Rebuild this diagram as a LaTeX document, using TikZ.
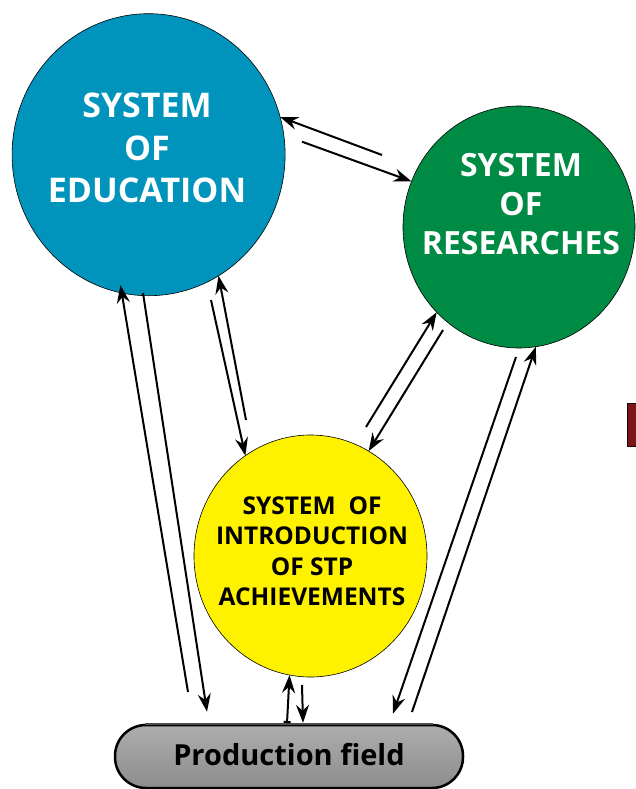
\documentclass[tikz,border=0pt]{standalone}
\usepackage{fontspec}
\setmainfont{Open Sans}
\usetikzlibrary{arrows.meta,shapes.geometric}
\definecolor{eduBlue}{RGB}{0,148,188}
\definecolor{resGreen}{RGB}{0,139,69}
\definecolor{introYellow}{RGB}{255,242,0}
\definecolor{markRed}{RGB}{125,22,26}
\tikzset{
	sphere/.style={ellipse, draw=black, line width=0.6pt, inner sep=0pt, outer sep=0pt},
	flowtip/.tip={Stealth[length=18pt,width=13pt,inset=6pt]},
	flow/.style={line width=2pt, -flowtip},
	title/.style={align=center, inner sep=0pt}
}

\begin{document}
\begin{tikzpicture}[x=1pt,y=-1pt]
	%%%%% START %%%%%
	\useasboundingbox (0,0) rectangle (636,789);
	
	\node[sphere, fill=eduBlue, minimum width=273pt, minimum height=282pt] (edu) at (148.6,154.7) {};
	\node[sphere, fill=resGreen, minimum width=232pt, minimum height=242pt] (res) at (519,227) {};
	\node[sphere, fill=introYellow, minimum width=233pt, minimum height=242pt] (intro) at (310.5,556) {};
	
	\node[title, white, font=\bfseries\fontsize{34}{42.5}\selectfont] (eduText) at (147,148) {SYSTEM\\OF\\EDUCATION};
	\node[title, white, font=\bfseries\fontsize{32}{39}\selectfont] (resText) at (521,204.5) {SYSTEM\\OF\\RESEARCHES};
	\node[title, black, font=\bfseries\fontsize{24.5}{30.5}\selectfont] (introText) at (312,551) {SYSTEM\ \ OF\\INTRODUCTION\\OF STP\\ACHIEVEMENTS};
	
	\node[draw=black, line width=2.5pt, rounded corners=31pt, minimum width=348pt, minimum height=63pt,
		top color=black!32, middle color=black!6, bottom color=black!45, text depth=5pt,
		font=\bfseries\fontsize{29}{30}\selectfont] (prod) at (289,756.5) {Production field};
	\draw[line width=2pt, black!70] ([xshift=31pt]prod.north west) -- ([xshift=-31pt]prod.north east);
	
	\draw[fill=markRed, draw=black!80!markRed, line width=1pt] (627,403) rectangle (640,446);
	
	% free ends of the arrows
	\coordinate (r2e) at (382,155);
	\coordinate (e2r) at (302,141.7);
	\coordinate (e2i) at (211,300);
	\coordinate (i2e) at (246,420);
	\coordinate (i2r) at (366,427);
	\coordinate (r2i) at (443,330);
	\coordinate (p2e) at (188,692);
	\coordinate (e2p) at (143,293);
	\coordinate (r2p) at (516,357);
	\coordinate (p2r) at (412,712);
	\coordinate (p2i) at (287,723);
	\coordinate (i2p) at (302,685);
	
	\draw[flow] (r2e) -- (edu.16.6);
	\draw[flow] (e2r) -- (res.157);
	\draw[flow] (e2i) -- (intro.123.5);
	\draw[flow] (i2e) -- (edu.-60);
	\draw[flow] (i2r) -- (res.-134);
	\draw[flow] (r2i) -- (intro.61.7);
	\draw[flow, shorten >=-8pt] (p2e) -- (edu.-101.4);
	\draw[flow] (e2p) -- ([xshift=-82pt,yshift=12pt]prod.north);
	\draw[flow] (r2p) -- ([xshift=104pt,yshift=10pt]prod.north);
	\draw[flow] (p2r) -- (res.-82.6);
	\draw[flow, {Bar[width=7pt]}-flowtip] (p2i) -- (intro.-100.9);
	\draw[flow] (i2p) -- ([xshift=14pt,yshift=1pt]prod.north);
	
	%%%%% END %%%%%
\end{tikzpicture}
\end{document}
